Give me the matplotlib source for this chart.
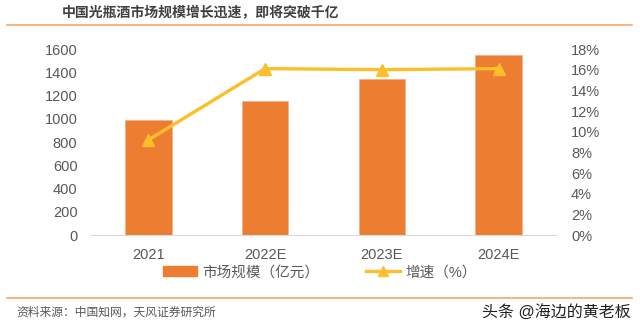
import matplotlib.pyplot as plt
from matplotlib.lines import Line2D
from matplotlib.patches import Patch
import numpy as np

plt.rcParams['font.family'] = ['Liberation Sans', 'Noto Sans CJK SC', 'DejaVu Sans']

years = ["2021", "2022E", "2023E", "2024E"]
market_size = [990, 1150, 1340, 1550]      # 亿元
growth = [9.2, 16.1, 16.0, 16.1]           # %
left_ticks = [0, 200, 400, 600, 800, 1000, 1200, 1400, 1600]
right_ticks = [0, 2, 4, 6, 8, 10, 12, 14, 16, 18]

BAR = "#ED7D31"
LINE = "#FDBE2C"
GREY = "#595959"
RULE = "#F9A66C"

fig = plt.figure(figsize=(6.4, 3.28), dpi=100)
ax = fig.add_axes([0.1406, 0.2835, 0.7297, 0.5671])
x = np.arange(len(years))
ax.bar(x, market_size, width=0.4, color=BAR, edgecolor="#F4B183", linewidth=0.6, zorder=2)
ax.set_xlim(-0.5, len(years) - 0.5)
ax.set_ylim(0, 1600)
ax.set_yticks(left_ticks)
ax.set_yticklabels([str(t) for t in left_ticks])
ax.set_xticks(x)
ax.set_xticklabels(years)
for s in ["top", "right", "left"]:
    ax.spines[s].set_visible(False)
ax.spines["bottom"].set_color("#D9D9D9")
ax.tick_params(axis="both", length=0, labelsize=10.5, colors=GREY, pad=9)
ax.tick_params(axis="x", pad=9)

ax2 = ax.twinx()
ax2.plot(x, growth, color=LINE, linewidth=2.4, marker="^", markersize=9, zorder=3)
ax2.set_ylim(0, 18)
ax2.set_yticks(right_ticks)
ax2.set_yticklabels([f"{t}%" for t in right_ticks])
for s in ["top", "right", "left", "bottom"]:
    ax2.spines[s].set_visible(False)
ax2.tick_params(axis="y", length=0, labelsize=10.5, colors=GREY, pad=10)

handles = [Patch(color=BAR), Line2D([], [], color=LINE, linewidth=2.4, marker="^", markersize=7)]
fig.legend(handles, ["市场规模（亿元）", "增速（%）"], loc="center", bbox_to_anchor=(0.5, 0.17),
           ncol=2, frameon=False, fontsize=10.5, handlelength=2.3, columnspacing=3.2,
           labelcolor=GREY, handletextpad=0.4)

fig.text(0.097, 0.96, "中国光瓶酒市场规模增长迅速，即将突破千亿", fontsize=10,
         fontweight="bold", color="#404040", va="center")
fig.add_artist(Line2D([0.011, 0.988], [0.924, 0.924], color=RULE, linewidth=1.2))
fig.add_artist(Line2D([0.011, 0.988], [0.092, 0.092], color=RULE, linewidth=1.2))
fig.text(0.025, 0.048, "资料来源：中国知网，天风证券研究所", fontsize=8.5, color=GREY, va="center")
fig.text(0.986, 0.048, "头条 @海边的黄老板", fontsize=11.5, color="#222222", va="center", ha="right")

fig.savefig("out.png", dpi=100, facecolor="white")
